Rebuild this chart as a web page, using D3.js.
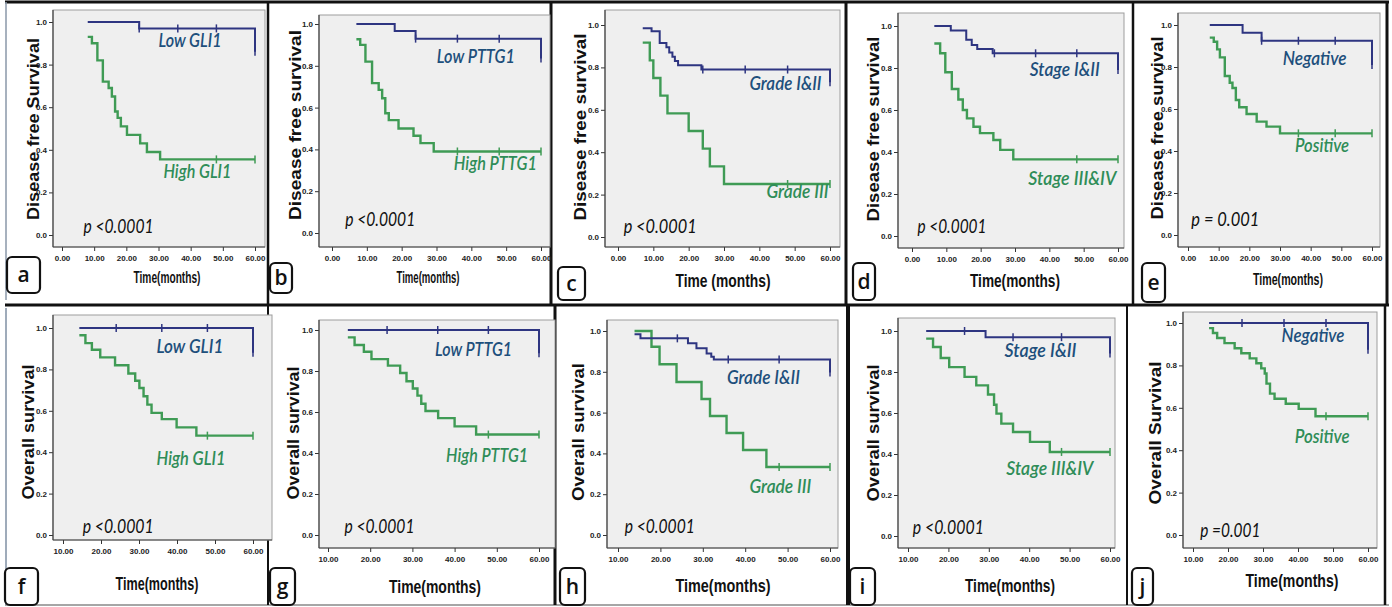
<!DOCTYPE html>
<html>
<head>
<meta charset="utf-8">
<script src="https://cdn.jsdelivr.net/npm/d3@7"></script>
<style>
  body { margin: 0; background: #fff; }
  text { font-family: "Liberation Sans", Arial, sans-serif; }
</style>
</head>
<body>
<script>
// ---- data: [time in months, survival] steps, plus censor times ----
// a  DFS by GLI1
const dfsGliLow = [[8, 1], [24, 0.97], [60, 0.86]]
const dfsGliLowCens = [24, 36, 48, 60]
const dfsGliHigh = [[8, 0.93], [9.3, 0.9], [11, 0.82], [12.7, 0.72], [14.5, 0.69], [15.5, 0.65], [16.5, 0.58], [17.3, 0.55], [18.3, 0.51], [20.2, 0.47], [24.3, 0.43], [26.4, 0.39], [30.5, 0.355], [60, 0.355]]
const dfsGliHighCens = [48, 60]
// b  DFS by PTTG1
const dfsPttgLow = [[7, 1], [18, 0.967], [24, 0.93], [60, 0.835]]
const dfsPttgLowCens = [24, 36, 48, 60]
const dfsPttgHigh = [[7, 0.927], [8.1, 0.9], [9.6, 0.82], [11.5, 0.717], [13.4, 0.685], [14.4, 0.645], [15.3, 0.573], [16.3, 0.54], [19.1, 0.5], [23.4, 0.465], [25.4, 0.43], [29.2, 0.39], [60, 0.39]]
const dfsPttgHighCens = [36, 48, 60]
// c  DFS by grade
const dfsGradeLow = [[7, 0.985], [9.5, 0.97], [11.8, 0.915], [13.7, 0.895], [14.5, 0.87], [15.4, 0.85], [16.1, 0.83], [17, 0.81], [23.6, 0.79], [60, 0.73]]
const dfsGradeLowCens = [24, 36, 48, 60]
const dfsGradeHigh = [[7, 0.917], [9, 0.833], [10, 0.75], [12, 0.667], [14, 0.583], [20, 0.5], [24, 0.417], [26, 0.333], [30, 0.25], [60, 0.25]]
const dfsGradeHighCens = [48, 60]
// d  DFS by stage
const dfsStageLow = [[6.5, 1], [11.3, 0.978], [15.8, 0.935], [17.4, 0.91], [19, 0.89], [23.5, 0.87], [60, 0.79]]
const dfsStageLowCens = [24, 36, 48, 60]
const dfsStageHigh = [[6.5, 0.917], [8.2, 0.87], [9.7, 0.78], [11.6, 0.7], [13.5, 0.65], [14.8, 0.6], [16, 0.56], [17.9, 0.52], [19.8, 0.49], [23.7, 0.457], [25.7, 0.41], [29.5, 0.365], [60, 0.365]]
const dfsStageHighCens = [48, 60]
// e  DFS by status
const dfsStatusNeg = [[7.1, 1], [17.8, 0.963], [24, 0.925], [60, 0.81]]
const dfsStatusNegCens = [24, 36, 48, 60]
const dfsStatusPos = [[7.1, 0.94], [8.4, 0.92], [9.5, 0.884], [10.4, 0.846], [12, 0.757], [13.6, 0.725], [14.5, 0.7], [15.6, 0.643], [16.7, 0.608], [19.1, 0.576], [22.4, 0.54], [25.6, 0.516], [30, 0.484], [60, 0.484]]
const dfsStatusPosCens = [36, 48, 60]
// f  OS by GLI1
const osGliLow = [[14.3, 1], [60, 0.88]]
const osGliLowCens = [24, 36, 48, 60]
const osGliHigh = [[14.3, 0.965], [15.9, 0.927], [17.6, 0.895], [19.8, 0.858], [23.7, 0.82], [27.2, 0.78], [29, 0.745], [30.1, 0.71], [31.2, 0.67], [32.2, 0.63], [33.3, 0.59], [36, 0.56], [39.9, 0.52], [45.1, 0.48], [60, 0.48]]
const osGliHighCens = [48, 60]
// g  OS by PTTG1
const osPttgLow = [[14.7, 1], [60, 0.886]]
const osPttgLowCens = [24, 36, 48, 60]
const osPttgHigh = [[14.7, 0.964], [16.3, 0.927], [18.5, 0.894], [20.3, 0.858], [24.2, 0.826], [27.1, 0.79], [28.6, 0.75], [30.1, 0.715], [31.2, 0.68], [32.1, 0.64], [33.1, 0.605], [36.1, 0.57], [40, 0.53], [45.1, 0.49], [60, 0.49]]
const osPttgHighCens = [48, 60]
// h  OS by grade
const osGradeLow = [[13.9, 0.984], [15.3, 0.964], [26.5, 0.94], [28.5, 0.915], [30.9, 0.89], [32, 0.874], [32.6, 0.86], [60, 0.797]]
const osGradeLowCens = [24, 36, 48, 60]
const osGradeHigh = [[13.9, 1], [17.9, 0.923], [19.8, 0.837], [23.8, 0.75], [29.7, 0.667], [31.7, 0.583], [35.6, 0.5], [39.5, 0.417], [45, 0.333], [60, 0.333]]
const osGradeHighCens = [48, 60]
// i  OS by stage
const osStageLow = [[14.5, 1], [29.2, 0.97], [60, 0.89]]
const osStageLowCens = [24, 36, 48, 60]
const osStageHigh = [[14.5, 0.963], [16.2, 0.922], [18.1, 0.868], [20.2, 0.824], [24, 0.776], [26.9, 0.735], [29.8, 0.69], [31.3, 0.64], [31.9, 0.597], [33.1, 0.548], [36, 0.507], [40.2, 0.459], [45.1, 0.41], [60, 0.41]]
const osStageHighCens = [48, 60]
// j  OS by status
const osStatusNeg = [[14.6, 1], [60, 0.874]]
const osStatusNegCens = [24, 36, 48, 60]
const osStatusPos = [[14.6, 0.976], [15.7, 0.953], [16.9, 0.929], [19, 0.905], [21.9, 0.881], [23.8, 0.857], [26.2, 0.833], [28.1, 0.81], [29.5, 0.786], [30.5, 0.762], [31, 0.714], [32, 0.667], [33.3, 0.643], [36.5, 0.619], [40.2, 0.595], [45, 0.56], [60, 0.56]]
const osStatusPosCens = [48, 60]

const dfsTicks = [0, 10, 20, 30, 40, 50, 60]
const osTicks = [10, 20, 30, 40, 50, 60]
const survTicks = [0, 0.2, 0.4, 0.6, 0.8, 1.0]

// ---- layout ----
const blue = '#2e3581', green = '#3f9b55'
const blueText = '#1e4f7c', greenText = '#2f8d58'

const panels = [
  { key: 'a', xd: [0, 60], ticks: dfsTicks, frame: [53, 10, 265, 247], xr: [62, 255], yr: [235, 22],
    ytitle: ['Disease free Survival', 33, 129, 182], xtitle: ['Time(months)', 167, 283, 67, 17], box: [7, 257, 33, 36],
    low: [dfsGliLow, dfsGliLowCens, 'Low GLI1', 39.8, 0.883, 63], high: [dfsGliHigh, dfsGliHighCens, 'High GLI1', 42.1, 0.266, 68],
    p: ['p <0.0001', 6.7, 0.008, 70] },
  { key: 'b', xd: [0, 60], ticks: dfsTicks, frame: [319, 15, 550, 247], xr: [332, 541], yr: [233, 24],
    ytitle: ['Disease free survival', 295, 125, 190], xtitle: ['Time(months)', 428, 283, 63, 17], box: [270, 263, 22, 30],
    low: [dfsPttgLow, dfsPttgLowCens, 'Low PTTG1', 41.3, 0.812, 78], high: [dfsPttgHigh, dfsPttgHighCens, 'High PTTG1', 46.9, 0.303, 83],
    p: ['p <0.0001', 3.8, 0.032, 70] },
  { key: 'c', xd: [0, 60], ticks: dfsTicks, frame: [605, 10, 840, 247], xr: [618, 830], yr: [237, 25],
    ytitle: ['Disease free survival', 580, 127, 187], xtitle: ['Time (months)', 723, 287, 95, 19], box: [558, 267, 27, 33],
    low: [dfsGradeLow, dfsGradeLowCens, 'Grade I&II', 47.4, 0.694, 72], high: [dfsGradeHigh, dfsGradeHighCens, 'Grade III', 50.8, 0.184, 62],
    p: ['p <0.0001', 1.6, 0.019, 73] },
  { key: 'd', xd: [0, 60], ticks: dfsTicks, frame: [898, 13, 1124, 248], xr: [912, 1118], yr: [236, 26],
    ytitle: ['Disease free survival', 873, 129, 185], xtitle: ['Time(months)', 1015, 287, 90, 19], box: [853, 263, 22, 37],
    low: [dfsStageLow, dfsStageLowCens, 'Stage I&II', 44.5, 0.762, 70], high: [dfsStageHigh, dfsStageHighCens, 'Stage III&IV', 46.7, 0.243, 88],
    p: ['p <0.0001', 1.6, 0.013, 69] },
  { key: 'e', xd: [0, 60], ticks: dfsTicks, frame: [1178, 13, 1380, 247], xr: [1188, 1372], yr: [235, 25],
    ytitle: ['Disease free survival', 1157, 128, 183], xtitle: ['Time(months)', 1288, 285, 70, 17], box: [1142, 263, 23, 39],
    low: [dfsStatusNeg, dfsStatusNegCens, 'Negative', 41.3, 0.81, 64], high: [dfsStatusPos, dfsStatusPosCens, 'Positive', 43.7, 0.397, 54],
    p: ['p = 0.001', 1.1, 0.043, 68] },
  { key: 'f', xd: [10, 60], ticks: osTicks, frame: [53, 315, 272, 540], xr: [63, 253], yr: [535, 328],
    ytitle: ['Overall survival', 28, 432, 135], xtitle: ['Time(months)', 157, 590, 83, 19], box: [5, 568, 33, 37],
    low: [osGliLow, osGliLowCens, 'Low GLI1', 43.4, 0.879, 67], high: [osGliHigh, osGliHighCens, 'High GLI1', 43.7, 0.339, 69],
    p: ['p <0.0001', 15.2, 0.008, 71] },
  { key: 'g', xd: [10, 60], ticks: osTicks, frame: [319, 320, 555, 548], xr: [328, 539], yr: [535, 330],
    ytitle: ['Overall survival', 293, 433, 133], xtitle: ['Time(months)', 435, 593, 92, 19], box: [270, 568, 25, 37],
    low: [osPttgLow, osPttgLowCens, 'Low PTTG1', 44.5, 0.875, 77], high: [osPttgHigh, osPttgHighCens, 'High PTTG1', 47.7, 0.358, 82],
    p: ['p <0.0001', 13.9, 0.008, 70] },
  { key: 'h', xd: [10, 60], ticks: osTicks, frame: [607, 320, 838, 548], xr: [618, 830], yr: [535, 331],
    ytitle: ['Overall survival', 578, 432, 138], xtitle: ['Time(months)', 723, 592, 95, 19], box: [560, 568, 25, 37],
    low: [osGradeLow, osGradeLowCens, 'Grade I&II', 44.3, 0.739, 73], high: [osGradeHigh, osGradeHighCens, 'Grade III', 48.3, 0.204, 62],
    p: ['p <0.0001', 11.6, 0.008, 70] },
  { key: 'i', xd: [10, 60], ticks: osTicks, frame: [898, 318, 1115, 548], xr: [908, 1110], yr: [536, 331],
    ytitle: ['Overall survival', 873, 433, 137], xtitle: ['Time(months)', 1010, 592, 90, 19], box: [850, 568, 25, 37],
    low: [osStageLow, osStageLowCens, 'Stage I&II', 42.8, 0.873, 72], high: [osStageHigh, osStageHighCens, 'Stage III&IV', 45.1, 0.296, 87],
    p: ['p <0.0001', 11.2, 0.011, 71] },
  { key: 'j', xd: [10, 60], ticks: osTicks, frame: [1183, 312, 1377, 548], xr: [1193, 1368], yr: [535, 323],
    ytitle: ['Overall Survival', 1155, 433, 143], xtitle: ['Time(months)', 1292, 587, 93, 19], box: [1132, 568, 21, 37],
    low: [osStatusNeg, osStatusNegCens, 'Negative', 44.3, 0.912, 63], high: [osStatusPos, osStatusPosCens, 'Positive', 46.9, 0.433, 55],
    p: ['p =0.001', 12.1, -0.008, 60] }
]

// figure dividers [x1, y1, x2, y2, colour, width]
const dividers = [
  [5, 2, 1389, 2, '#111', 3], [5, 305, 1389, 305, '#111', 3], [5, 605, 1389, 605, '#888', 1.5],
  [6, 2, 6, 300, '#8a97a8', 1.5], [268, 2, 268, 305, '#111', 2.5], [551, 2, 551, 305, '#111', 3],
  [846, 2, 846, 305, '#111', 3], [1133, 2, 1133, 305, '#111', 2.5], [1387, 2, 1387, 305, '#111', 3],
  [6, 308, 6, 605, '#7f8fa3', 1.5], [268, 305, 268, 605, '#111', 2], [555, 305, 555, 605, '#111', 3],
  [848, 305, 848, 605, '#111', 4], [1127, 305, 1127, 605, '#111', 2], [1385, 305, 1385, 605, '#111', 2.5]
]

const svg = d3.select('body').append('svg')
  .attr('width', 1392)
  .attr('height', 607)

svg.append('rect').attr('width', 1392).attr('height', 607).attr('fill', '#fff')

svg.selectAll('.divider')
  .data(dividers)
  .enter()
  .append('line')
  .classed('divider', true)
  .attr('x1', d => d[0]).attr('y1', d => d[1])
  .attr('x2', d => d[2]).attr('y2', d => d[3])
  .attr('stroke', d => d[4])
  .attr('stroke-width', d => d[5])

function survAt(curve, t) {
  let s = curve[0][1]
  curve.forEach(function(d) { if (d[0] <= t) s = d[1] })
  return s
}

function drawPanel(p) {
  const g = svg.append('g').attr('id', 'panel-' + p.key)
  const x = d3.scaleLinear().domain(p.xd).range(p.xr)
  const y = d3.scaleLinear().domain([0, 1]).range(p.yr)
  const [fl, ft, fr, fb] = p.frame

  g.append('rect')
    .attr('x', fl).attr('y', ft)
    .attr('width', fr - fl).attr('height', fb - ft)
    .attr('fill', '#efefef')
    .attr('stroke', '#9d9d9d')
    .attr('stroke-width', 1)

  // axes
  const xa = g.append('g')
    .attr('transform', 'translate(0,' + fb + ')')
    .call(d3.axisBottom(x).tickValues(p.ticks).tickFormat(d3.format('.2f')).tickSize(4).tickPadding(4))
  const ya = g.append('g')
    .attr('transform', 'translate(' + fl + ',0)')
    .call(d3.axisLeft(y).tickValues(survTicks).tickFormat(d3.format('.1f')).tickSize(4).tickPadding(2))
  xa.select('.domain').remove()
  ya.select('.domain').remove()
  g.selectAll('.tick line').attr('stroke', '#333')
  g.selectAll('.tick text')
    .style('font-family', '"Liberation Sans Narrow", "Liberation Sans", sans-serif')
    .style('font-weight', 'bold')
    .style('font-size', '8px')
    .attr('fill', '#222')
  g.append('line').attr('x1', fl).attr('x2', fl).attr('y1', ft).attr('y2', fb).attr('stroke', '#444').attr('stroke-width', 1.2)
  g.append('line').attr('x1', fl).attr('x2', fr).attr('y1', fb).attr('y2', fb).attr('stroke', '#444').attr('stroke-width', 1.2)

  // curves
  const line = d3.line()
    .x(d => x(d[0]))
    .y(d => y(d[1]))
    .curve(d3.curveStepAfter)

  const series = [[p.high, green, greenText, 2.4], [p.low, blue, blueText, 2]]
  series.forEach(function(s) {
    const [curve, cens, name, lt, ls, lw] = s[0]
    g.append('path')
      .attr('d', line(curve))
      .attr('fill', 'none')
      .attr('stroke', s[1])
      .attr('stroke-width', s[3])
    g.selectAll(null)
      .data(cens)
      .enter()
      .append('line')
      .attr('x1', d => x(d)).attr('x2', d => x(d))
      .attr('y1', d => y(survAt(curve, d)) - 4)
      .attr('y2', d => y(survAt(curve, d)) + 4)
      .attr('stroke', s[1])
      .attr('stroke-width', 1.5)
    g.append('text')
      .text(name)
      .attr('x', x(lt))
      .attr('y', y(ls))
      .attr('text-anchor', 'middle')
      .attr('textLength', lw)
      .attr('lengthAdjust', 'spacingAndGlyphs')
      .style('font-family', 'Lato, "Open Sans", sans-serif')
      .style('font-style', 'italic')
      .style('font-weight', '600')
      .style('font-size', '19px')
      .attr('fill', s[2])
  })

  // p value
  g.append('text')
    .text(p.p[0])
    .attr('x', x(p.p[1]))
    .attr('y', y(p.p[2]))
    .attr('textLength', p.p[3])
    .attr('lengthAdjust', 'spacingAndGlyphs')
    .style('font-family', 'Lato, "Open Sans", sans-serif')
    .style('font-style', 'italic')
    .style('font-size', '20px')
    .attr('fill', '#111')

  // axis titles
  g.append('text')
    .text(p.ytitle[0])
    .attr('transform', 'translate(' + (p.ytitle[1] + 6) + ',' + p.ytitle[2] + ') rotate(-90)')
    .attr('text-anchor', 'middle')
    .attr('textLength', p.ytitle[3])
    .attr('lengthAdjust', 'spacingAndGlyphs')
    .style('font-weight', 'bold')
    .style('font-size', '17px')
    .attr('fill', '#111')
  g.append('text')
    .text(p.xtitle[0])
    .attr('x', p.xtitle[1])
    .attr('y', p.xtitle[2])
    .attr('text-anchor', 'middle')
    .attr('textLength', p.xtitle[3])
    .attr('lengthAdjust', 'spacingAndGlyphs')
    .style('font-family', '"Liberation Sans Narrow", "Liberation Sans", sans-serif')
    .style('font-weight', 'bold')
    .style('font-size', p.xtitle[4] + 'px')
    .attr('fill', '#111')

  // panel letter
  const [bx, by, bw, bh] = p.box
  g.append('rect')
    .attr('x', bx).attr('y', by)
    .attr('width', bw).attr('height', bh)
    .attr('rx', 5)
    .attr('fill', '#fff')
    .attr('stroke', '#111')
    .attr('stroke-width', 2.2)
  g.append('text')
    .text(p.key)
    .attr('x', bx + bw / 2)
    .attr('y', by + bh / 2 + 7)
    .attr('text-anchor', 'middle')
    .style('font-family', '"Open Sans", "Liberation Sans", sans-serif')
    .style('font-weight', '600')
    .style('font-size', '21px')
    .attr('fill', '#111')
}

panels.forEach(drawPanel)
</script>
</body>
</html>
